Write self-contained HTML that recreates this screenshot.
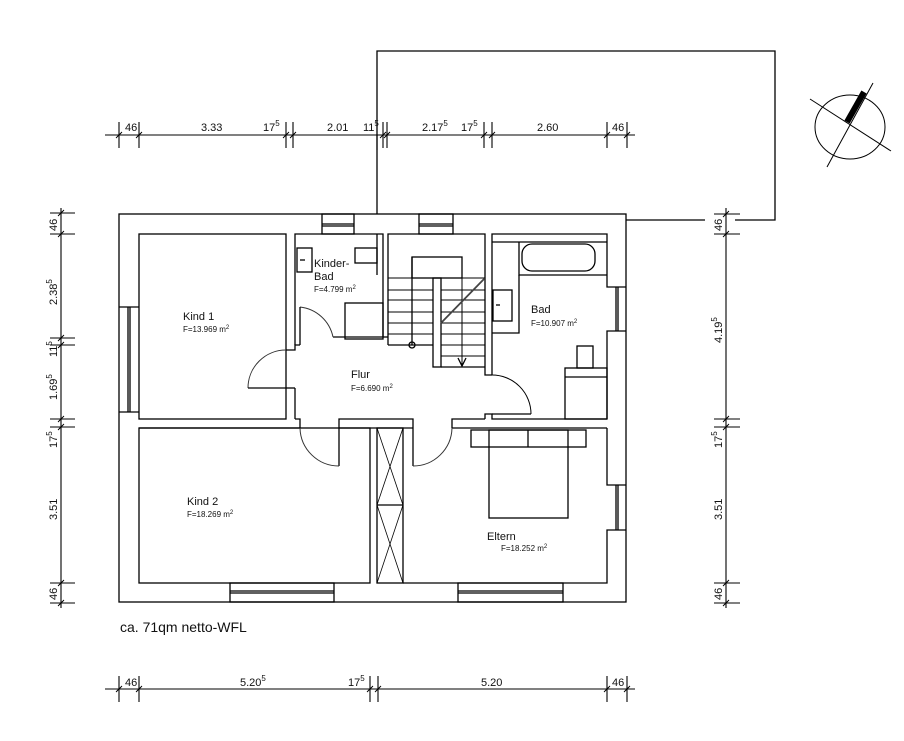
<!DOCTYPE html>
<html><head><meta charset="utf-8"><style>
html,body{margin:0;padding:0;background:#fff;}
svg{display:block;}
text{font-family:"Liberation Sans",Arial,sans-serif;fill:#111;}
</style></head><body>
<svg width="904" height="741" viewBox="0 0 904 741" xmlns="http://www.w3.org/2000/svg">
<g fill="none" stroke="#000" stroke-width="1.3">
<!-- terrace -->
<polyline points="377,214 377,51 775,51 775,220 735,220"/>
<line x1="626" y1="220" x2="705" y2="220"/>
<!-- outer wall -->
<rect x="119" y="214" width="507" height="388"/>
<!-- Kind1 -->
<rect x="139" y="234" width="147" height="185"/>
<!-- left window kind1 -->
<line x1="119" y1="307" x2="139" y2="307"/><line x1="119" y1="412" x2="139" y2="412"/>
<line x1="128" y1="307" x2="128" y2="412"/><line x1="130" y1="307" x2="130" y2="412"/>
<!-- Kinderbad -->
<polyline points="295,345 295,234 383,234 383,337"/>
<line x1="333" y1="337" x2="383" y2="337"/>
<polyline points="286,350 295,350 295,345 300,345"/>
<line x1="295" y1="388" x2="295" y2="419"/>
<line x1="286" y1="388" x2="295" y2="388"/>
<rect x="297" y="248" width="15" height="24"/>
<line x1="300" y1="260" x2="305" y2="260"/>
<rect x="355" y="248" width="22" height="15"/>
<line x1="377" y1="234" x2="377" y2="275"/>
<rect x="345" y="303" width="38" height="36"/>
<!-- top window kinderbad -->
<rect x="322" y="214" width="32" height="20"/><line x1="322" y1="224" x2="354" y2="224"/><line x1="322" y1="226" x2="354" y2="226"/>
<!-- stair -->
<polyline points="388,345 388,234 485,234 485,375 492,375"/>
<line x1="383" y1="337" x2="388" y2="337"/>
<line x1="388" y1="345" x2="433" y2="345"/>
<rect x="412" y="257" width="50" height="21"/>
<line x1="412" y1="257" x2="412" y2="345"/>
<rect x="433" y="278" width="8" height="89"/>
<line x1="441" y1="367" x2="485" y2="367"/>
<g stroke-width="1">
<line x1="388" y1="278" x2="433" y2="278"/><line x1="388" y1="290" x2="433" y2="290"/><line x1="388" y1="300" x2="433" y2="300"/><line x1="388" y1="312" x2="433" y2="312"/><line x1="388" y1="323" x2="433" y2="323"/><line x1="388" y1="334" x2="433" y2="334"/>
<line x1="441" y1="278" x2="485" y2="278"/><line x1="441" y1="290" x2="485" y2="290"/><line x1="441" y1="300" x2="485" y2="300"/><line x1="441" y1="312" x2="485" y2="312"/><line x1="441" y1="323" x2="485" y2="323"/><line x1="441" y1="334" x2="485" y2="334"/><line x1="441" y1="345" x2="485" y2="345"/><line x1="441" y1="356" x2="485" y2="356"/>
<line x1="462" y1="278" x2="462" y2="367"/>
</g>
<line x1="441" y1="323" x2="484" y2="279" stroke="#444" stroke-width="1.8"/>
<polyline points="458,358 462,366 466,358"/>
<circle cx="412" cy="345" r="3"/>
<rect x="419" y="214" width="34" height="20"/><line x1="419" y1="224" x2="453" y2="224"/><line x1="419" y1="226" x2="453" y2="226"/>
<!-- Bad -->
<polyline points="492,375 492,234 607,234 607,287 626,287"/>
<polyline points="626,331 607,331 607,419"/>
<line x1="616" y1="287" x2="616" y2="331"/><line x1="618" y1="287" x2="618" y2="331"/>
<line x1="492" y1="242" x2="607" y2="242"/>
<polyline points="519,242 519,275 607,275"/>
<rect x="522" y="244" width="73" height="27" rx="10"/>
<polyline points="492,333 519,333 519,275"/>
<rect x="493" y="290" width="19" height="31"/>
<line x1="496" y1="305" x2="500" y2="305"/>
<rect x="577" y="346" width="16" height="22"/>
<rect x="565" y="368" width="42" height="51"/>
<line x1="565" y1="377" x2="607" y2="377"/>
<polyline points="485,419 485,414 492,414 492,419 607,419"/>
<line x1="492" y1="414" x2="531" y2="414"/>
<path d="M492,375 A39,39 0 0 1 531,414" stroke-width="1"/>
<!-- Flur bottom wall / lower rooms -->
<polyline points="295,419 300,419 300,428 139,428"/>
<polyline points="339,466 339,419 413,419 413,466"/>
<polyline points="452,428 452,419 485,419"/>
<line x1="452" y1="428" x2="607" y2="428"/>
<line x1="339" y1="428" x2="413" y2="428"/>
<!-- Kind2 -->
<rect x="139" y="428" width="231" height="155"/>
<!-- closet -->
<rect x="377" y="428" width="26" height="155"/>
<line x1="377" y1="505" x2="403" y2="505"/>
<g stroke-width="0.8"><line x1="377" y1="428" x2="403" y2="505"/><line x1="403" y1="428" x2="377" y2="505"/><line x1="377" y1="505" x2="403" y2="583"/><line x1="403" y1="505" x2="377" y2="583"/></g>
<!-- Eltern -->
<polyline points="403,583 607,583 607,530 626,530"/>
<polyline points="626,485 607,485 607,428"/>
<line x1="616" y1="485" x2="616" y2="530"/><line x1="618" y1="485" x2="618" y2="530"/>
<rect x="471" y="430" width="115" height="17"/>
<line x1="528" y1="430" x2="528" y2="447"/>
<rect x="489" y="430" width="79" height="88"/>
<!-- bottom windows -->
<rect x="230" y="583" width="104" height="19"/><line x1="230" y1="591" x2="334" y2="591"/><line x1="230" y1="593" x2="334" y2="593"/>
<rect x="458" y="583" width="105" height="19"/><line x1="458" y1="591" x2="563" y2="591"/><line x1="458" y1="593" x2="563" y2="593"/>
<!-- door arcs -->
<g stroke-width="1" stroke="#333">
<path d="M248,388 A38,38 0 0 1 286,350"/>
<path d="M300,307 A38,38 0 0 1 333,337"/>
<path d="M300,428 A39,39 0 0 0 339,466"/>
<path d="M413,466 A39,39 0 0 0 452,428"/>
</g>
<line x1="300" y1="307" x2="300" y2="345"/>
<line x1="248" y1="388" x2="286" y2="388"/>
<!-- compass -->
<ellipse cx="850" cy="127" rx="35" ry="32" stroke-width="1"/>
<line x1="810" y1="99" x2="891" y2="151" stroke-width="1"/>
<line x1="827" y1="167" x2="873" y2="83" stroke-width="1"/>
<line x1="847" y1="122" x2="864" y2="92" stroke-width="6"/>
</g>
<!-- dimension lines -->
<g stroke="#000" stroke-width="1.1" fill="none">
<line x1="105" y1="135" x2="635" y2="135"/>
<line x1="119" y1="122" x2="119" y2="148"/><line x1="139" y1="122" x2="139" y2="148"/>
<line x1="286" y1="122" x2="286" y2="148"/><line x1="293" y1="122" x2="293" y2="148"/>
<line x1="383" y1="122" x2="383" y2="148"/><line x1="387" y1="122" x2="387" y2="148"/>
<line x1="377" y1="135" x2="377" y2="150"/>
<line x1="484" y1="122" x2="484" y2="148"/><line x1="492" y1="122" x2="492" y2="148"/>
<line x1="607" y1="122" x2="607" y2="148"/><line x1="627" y1="122" x2="627" y2="148"/>
<line x1="105" y1="689" x2="635" y2="689"/>
<line x1="119" y1="676" x2="119" y2="702"/><line x1="139" y1="676" x2="139" y2="702"/>
<line x1="370" y1="676" x2="370" y2="702"/><line x1="378" y1="676" x2="378" y2="702"/>
<line x1="607" y1="676" x2="607" y2="702"/><line x1="627" y1="676" x2="627" y2="702"/>
<line x1="61" y1="208" x2="61" y2="608"/>
<line x1="50" y1="213" x2="75" y2="213"/><line x1="50" y1="234" x2="75" y2="234"/>
<line x1="50" y1="338" x2="75" y2="338"/><line x1="50" y1="345" x2="75" y2="345"/>
<line x1="50" y1="419" x2="75" y2="419"/><line x1="50" y1="427" x2="75" y2="427"/>
<line x1="50" y1="583" x2="75" y2="583"/><line x1="50" y1="603" x2="75" y2="603"/>
<line x1="726" y1="208" x2="726" y2="608"/>
<line x1="714" y1="214" x2="740" y2="214"/><line x1="714" y1="234" x2="740" y2="234"/>
<line x1="714" y1="419" x2="740" y2="419"/><line x1="714" y1="427" x2="740" y2="427"/>
<line x1="714" y1="583" x2="740" y2="583"/><line x1="714" y1="603" x2="740" y2="603"/>
</g>
<!-- tick slashes -->
<g stroke="#000" stroke-width="0.9">
<path d="M116,138l6,-6M136,138l6,-6M283,138l6,-6M290,138l6,-6M380,138l6,-6M384,138l6,-6M481,138l6,-6M489,138l6,-6M604,138l6,-6M624,138l6,-6"/>
<path d="M116,692l6,-6M136,692l6,-6M367,692l6,-6M375,692l6,-6M604,692l6,-6M624,692l6,-6"/>
<path d="M58,216l6,-6M58,237l6,-6M58,341l6,-6M58,348l6,-6M58,422l6,-6M58,430l6,-6M58,586l6,-6M58,606l6,-6"/>
<path d="M723,217l6,-6M723,237l6,-6M723,422l6,-6M723,430l6,-6M723,586l6,-6M723,606l6,-6"/>
</g>
<!-- dim texts -->
<g font-size="11">
<text x="125" y="131">46</text>
<text x="201" y="131">3.33</text>
<text x="263" y="131">17<tspan dy="-5" font-size="8">5</tspan></text>
<text x="327" y="131">2.01</text>
<text x="363" y="131">11<tspan dy="-5" font-size="8">5</tspan></text>
<text x="422" y="131">2.17<tspan dy="-5" font-size="8">5</tspan></text>
<text x="461" y="131">17<tspan dy="-5" font-size="8">5</tspan></text>
<text x="537" y="131">2.60</text>
<text x="612" y="131">46</text>
<text x="125" y="686">46</text>
<text x="240" y="686">5.20<tspan dy="-5" font-size="8">5</tspan></text>
<text x="348" y="686">17<tspan dy="-5" font-size="8">5</tspan></text>
<text x="481" y="686">5.20</text>
<text x="612" y="686">46</text>
<g transform="rotate(-90)">
<text x="-231" y="57">46</text>
<text x="-305" y="57">2.38<tspan dy="-5" font-size="8">5</tspan></text>
<text x="-357" y="57">11<tspan dy="-5" font-size="8">5</tspan></text>
<text x="-400" y="57">1.69<tspan dy="-5" font-size="8">5</tspan></text>
<text x="-448" y="57">17<tspan dy="-5" font-size="8">5</tspan></text>
<text x="-520" y="57">3.51</text>
<text x="-600" y="57">46</text>
<text x="-231" y="722">46</text>
<text x="-343" y="722">4.19<tspan dy="-5" font-size="8">5</tspan></text>
<text x="-448" y="722">17<tspan dy="-5" font-size="8">5</tspan></text>
<text x="-520" y="722">3.51</text>
<text x="-600" y="722">46</text>
</g>
</g>
<!-- room labels -->
<g font-size="11">
<text x="183" y="320">Kind 1</text>
<text x="314" y="267">Kinder-</text>
<text x="314" y="280">Bad</text>
<text x="351" y="378">Flur</text>
<text x="531" y="313">Bad</text>
<text x="187" y="505">Kind 2</text>
<text x="487" y="540">Eltern</text>
</g>
<g font-size="8">
<text x="183" y="332">F=13.969 m<tspan dy="-3" font-size="6">2</tspan></text>
<text x="314" y="292">F=4.799 m<tspan dy="-3" font-size="6">2</tspan></text>
<text x="351" y="391">F=6.690 m<tspan dy="-3" font-size="6">2</tspan></text>
<text x="531" y="326">F=10.907 m<tspan dy="-3" font-size="6">2</tspan></text>
<text x="187" y="517">F=18.269 m<tspan dy="-3" font-size="6">2</tspan></text>
<text x="501" y="551">F=18.252 m<tspan dy="-3" font-size="6">2</tspan></text>
</g>
<text x="120" y="632" font-size="14">ca. 71qm netto-WFL</text>
</svg>
</body></html>
